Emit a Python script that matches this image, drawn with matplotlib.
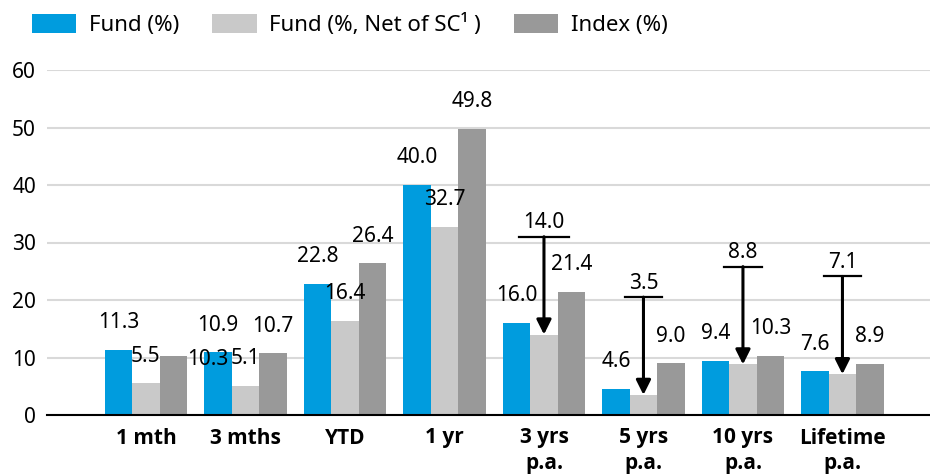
import matplotlib
matplotlib.use("Agg")
import matplotlib.pyplot as plt
import numpy as np

plt.rcParams['font.family'] = ['Noto Sans', 'DejaVu Sans']

categories = ["1 mth", "3 mths", "YTD", "1 yr", "3 yrs\np.a.", "5 yrs\np.a.", "10 yrs\np.a.", "Lifetime\np.a."]
fund = [11.3, 10.9, 22.8, 40.0, 16.0, 4.6, 9.4, 7.6]
fund_net = [5.5, 5.1, 16.4, 32.7, 14.0, 3.5, 8.8, 7.1]
index = [10.3, 10.7, 26.4, 49.8, 21.4, 9.0, 10.3, 8.9]
series_names = ["Fund (%)", "Fund (%, Net of SC\u00b9 )", "Index (%)"]

colors = ["#009CDE", "#C9C9C9", "#999999"]

# categories where the net value is called out with a bar + arrow
callouts = [4, 5, 6, 7]

# label nudges (series, category) -> (dx, y) for labels that sit off the default spot
label_nudge = {
    (2, 0): (0.35, 9.7),
}

fig = plt.figure(figsize=(9.3, 4.76), dpi=100)
ax = fig.add_axes([47 / 930, 61 / 476, 883 / 930, 345 / 476])

x = np.arange(len(categories))
w = 0.276
all_series = [fund, fund_net, index]

for i, (vals, c, name) in enumerate(zip(all_series, colors, series_names)):
    ax.bar(x + (i - 1) * w, vals, width=w, color=c, label=name, zorder=2)

# data labels
for i, vals in enumerate(all_series):
    for j, v in enumerate(vals):
        if i == 1 and j in callouts:
            continue
        dx, ly = label_nudge.get((i, j), (0.0, v + 4.7))
        ax.text(x[j] + (i - 1) * w + dx, ly, f"{v:.1f}", ha="center", va="center",
                fontsize=15, color="black", zorder=5)

# callouts for net-of-SC values
for j in callouts:
    v = fund_net[j]
    top = v + 17
    half = 0.25 if j == 4 else 0.19
    ax.plot([x[j] - half, x[j] + half], [top, top], color="black", lw=1.6, zorder=6)
    ax.annotate("", xy=(x[j], v), xytext=(x[j], top),
                arrowprops=dict(arrowstyle="-|>", color="black", lw=2.2,
                                mutation_scale=22, shrinkA=0, shrinkB=0), zorder=6)
    ax.text(x[j], top + 2.4, f"{v:.1f}", ha="center", va="center", fontsize=15,
            color="black", zorder=6)

ax.set_ylim(0, 60)
ax.set_xlim(-0.995, 7.88)
ax.set_yticks(range(0, 61, 10))
ax.set_xticks(x)
ax.set_xticklabels(categories, fontsize=15, fontweight="bold", linespacing=1.25,
                   family=["Open Sans", "DejaVu Sans"])
ax.tick_params(axis="y", labelsize=15, length=0, pad=8)
ax.tick_params(axis="x", length=0, pad=9)
ax.yaxis.grid(True, color="#D9D9D9", lw=1.5, zorder=0)
ax.set_axisbelow(True)
for s in ["top", "right", "left"]:
    ax.spines[s].set_visible(False)
ax.spines["bottom"].set_color("black")
ax.spines["bottom"].set_linewidth(1.5)
ax.spines["bottom"].set_zorder(7)

fig.legend(loc="center left", bbox_to_anchor=(32 / 930, 1 - 25 / 476), ncol=3,
           frameon=False, fontsize=16, handlelength=2.0, handleheight=0.9,
           handletextpad=0.55, columnspacing=1.5, borderpad=0, borderaxespad=0)

fig.savefig("out.png", dpi=100)
